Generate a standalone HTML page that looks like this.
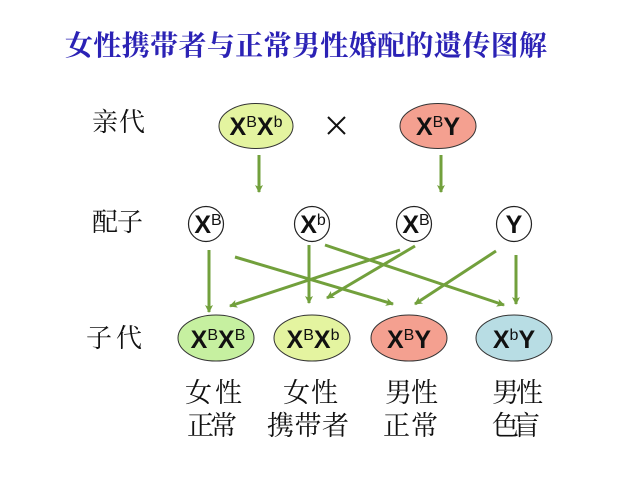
<!DOCTYPE html>
<html>
<head>
<meta charset="utf-8">
<style>
html,body{margin:0;padding:0;background:#fff;}
svg{display:block;}
.cn{font-family:"Liberation Serif","Noto Serif CJK SC","Noto Sans CJK SC",serif;}
.lab{font-family:"Liberation Sans",Arial,sans-serif;font-weight:bold;fill:#111;}
.sup{font-weight:normal;}
</style>
</head>
<body>
<svg width="640" height="480" viewBox="0 0 640 480" xmlns="http://www.w3.org/2000/svg">
<defs>
<marker id="ah" markerWidth="10" markerHeight="10" refX="7" refY="5" orient="auto" markerUnits="userSpaceOnUse">
<path d="M0,1 L8,5 L0,9 L2,5 Z" fill="#72a03c"/>
</marker>
</defs>
<rect width="640" height="480" fill="#fff"/>

<!-- Title -->
<text class="cn" x="65" y="55" font-size="28" font-weight="bold" fill="#2b22b5" textLength="482" lengthAdjust="spacing">女性携带者与正常男性婚配的遗传图解</text>

<!-- Row labels -->
<text class="cn" x="92" y="131" font-size="26" fill="#111" textLength="53" lengthAdjust="spacing">亲代</text>
<text class="cn" x="92" y="231" font-size="26" fill="#111" textLength="51" lengthAdjust="spacing">配子</text>
<text class="cn" x="86" y="347" font-size="26" fill="#111" textLength="56" lengthAdjust="spacing">子代</text>

<!-- Parents -->
<ellipse cx="256" cy="126" rx="37" ry="22.5" fill="#e4f4a0" stroke="#333" stroke-width="1"/>
<text class="lab" x="256" y="135" font-size="25" text-anchor="middle">X<tspan class="sup" font-size="16" dy="-8">B</tspan><tspan dy="8">X</tspan><tspan class="sup" font-size="16" dy="-8">b</tspan></text>

<g stroke="#111" stroke-width="2">
<line x1="328" y1="117" x2="345" y2="134"/>
<line x1="345" y1="117" x2="328" y2="134"/>
</g>

<ellipse cx="438" cy="126" rx="38" ry="22.5" fill="#f4a090" stroke="#333" stroke-width="1"/>
<text class="lab" x="438" y="135" font-size="25" text-anchor="middle">X<tspan class="sup" font-size="16" dy="-8">B</tspan><tspan dy="8">Y</tspan></text>

<!-- Parent arrows -->
<line x1="259" y1="155" x2="259" y2="192" stroke="#72a03c" stroke-width="3" marker-end="url(#ah)"/>
<line x1="441" y1="155" x2="441" y2="192" stroke="#72a03c" stroke-width="3" marker-end="url(#ah)"/>

<!-- Gametes -->
<circle cx="206" cy="224" r="17.5" fill="#fff" stroke="#222" stroke-width="1.2"/>
<text class="lab" x="208" y="233" font-size="25" text-anchor="middle">X<tspan class="sup" font-size="16" dy="-8">B</tspan></text>
<circle cx="312" cy="224" r="17.5" fill="#fff" stroke="#222" stroke-width="1.2"/>
<text class="lab" x="313" y="233" font-size="25" text-anchor="middle">X<tspan class="sup" font-size="16" dy="-8">b</tspan></text>
<circle cx="414" cy="224" r="17.5" fill="#fff" stroke="#222" stroke-width="1.2"/>
<text class="lab" x="416" y="233" font-size="25" text-anchor="middle">X<tspan class="sup" font-size="16" dy="-8">B</tspan></text>
<circle cx="514" cy="224" r="17.5" fill="#fff" stroke="#222" stroke-width="1.2"/>
<text class="lab" x="514" y="233" font-size="25" text-anchor="middle">Y</text>

<!-- Gamete arrows -->
<g stroke="#72a03c" stroke-width="3" marker-end="url(#ah)">
<line x1="209" y1="250" x2="209" y2="312"/>
<line x1="235" y1="257" x2="393" y2="304"/>
<line x1="309" y1="245" x2="309" y2="303"/>
<line x1="325" y1="245" x2="504" y2="305"/>
<line x1="400" y1="250" x2="230" y2="306"/>
<line x1="415" y1="246" x2="327" y2="298"/>
<line x1="496" y1="251" x2="415" y2="304"/>
<line x1="516" y1="255" x2="516" y2="304"/>
</g>

<!-- Offspring -->
<ellipse cx="216" cy="338" rx="38" ry="23" fill="#c6f0a0" stroke="#333" stroke-width="1"/>
<text class="lab" x="218" y="348" font-size="25" text-anchor="middle">X<tspan class="sup" font-size="16" dy="-8">B</tspan><tspan dy="8">X</tspan><tspan class="sup" font-size="16" dy="-8">B</tspan></text>

<ellipse cx="312" cy="338" rx="38" ry="23" fill="#e4f4a0" stroke="#333" stroke-width="1"/>
<text class="lab" x="313" y="348" font-size="25" text-anchor="middle">X<tspan class="sup" font-size="16" dy="-8">B</tspan><tspan dy="8">X</tspan><tspan class="sup" font-size="16" dy="-8">b</tspan></text>

<ellipse cx="409" cy="338" rx="38" ry="23" fill="#f4a090" stroke="#333" stroke-width="1"/>
<text class="lab" x="409" y="348" font-size="25" text-anchor="middle">X<tspan class="sup" font-size="16" dy="-8">B</tspan><tspan dy="8">Y</tspan></text>

<ellipse cx="514" cy="338" rx="38" ry="23" fill="#b8dde4" stroke="#333" stroke-width="1"/>
<text class="lab" x="514" y="348" font-size="25" text-anchor="middle">X<tspan class="sup" font-size="16" dy="-8">b</tspan><tspan dy="8">Y</tspan></text>

<!-- Bottom labels -->
<g class="cn" font-size="27" fill="#111">
<text x="185" y="402" textLength="57" lengthAdjust="spacing">女性</text>
<text x="187" y="435" textLength="50" lengthAdjust="spacing">正常</text>
<text x="283" y="402" textLength="55" lengthAdjust="spacing">女性</text>
<text x="267" y="435" textLength="82" lengthAdjust="spacing">携带者</text>
<text x="385" y="402" textLength="53" lengthAdjust="spacing">男性</text>
<text x="383" y="435" textLength="55" lengthAdjust="spacing">正常</text>
<text x="492" y="402" textLength="51" lengthAdjust="spacing">男性</text>
<text x="492" y="435" textLength="48" lengthAdjust="spacing">色盲</text>
</g>
</svg>
</body>
</html>
